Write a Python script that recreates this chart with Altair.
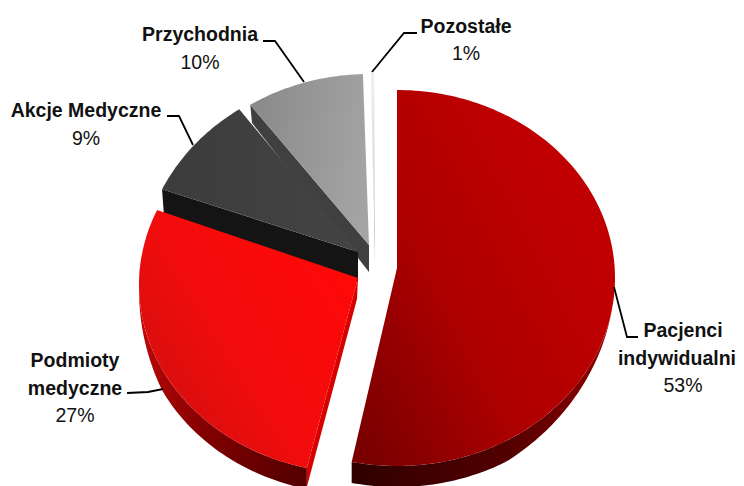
import numpy as np
import pandas as pd
import altair as alt

# ---- values
names = ["Pacjenci indywidualni", "Podmioty medyczne", "Akcje Medyczne", "Przychodnia", "Pozostałe"]
shares = [53, 27, 9, 10, 1]

# ---- label text
label_lines = [
    ("Pacjenci", 683, 337, "bold"), ("indywidualni", 677, 365, "bold"), ("53%", 683, 392, "normal"),
    ("Podmioty", 75, 367, "bold"), ("medyczne", 75, 395, "bold"), ("27%", 75, 422, "normal"),
    ("Akcje Medyczne", 86, 117, "bold"), ("9%", 86, 145, "normal"),
    ("Przychodnia", 200, 41, "bold"), ("10%", 200, 69, "normal"),
    ("Pozostałe", 466, 33, "bold"), ("1%", 466, 60, "normal"),
]
leaders = [
    [(614, 287), (627, 337), (638, 337)],
    [(127, 393), (148, 392), (163, 389)],
    [(167, 116), (179, 116), (193, 145)],
    [(263, 41), (275, 41), (304, 82)],
    [(417, 33), (404, 33), (372, 72)],
]

# ---- drawing geometry of the tilted, exploded pie (picture coordinates)
cum = np.concatenate([[0], np.cumsum(shares)]) * 3.6
tilt_shift = [(0, 1.2), (2.5, 5.5), (8, 6.6), (6.6, 2), (2.5, -0.2)]
apex = [(397, 268), (358, 278), (358, 252), (369, 245), (375, 260)]
centre = [(397, 278), (357, 285), (358, 277), (369, 265), (375, 265)]
rx, ry = 218, [188, 188, 200, 191, 192]
a = [(cum[i] + tilt_shift[i][0], cum[i + 1] + tilt_shift[i][1]) for i in range(5)]


def arc(i, a0=None, a1=None, dy=0):
    a0 = a[i][0] if a0 is None else a0
    a1 = a[i][1] if a1 is None else a1
    t = np.radians(np.linspace(a0, a1, max(2, int(abs(a1 - a0) / 1.2) + 2)))
    return [(centre[i][0] + rx * np.sin(v), centre[i][1] - ry[i] * np.cos(v) + dy) for v in t]


def wedge(i, dy=0):
    return [(apex[i][0], apex[i][1] + dy)] + arc(i, dy=dy)


def band(i, a_thin, a_full, a_end, dy):
    """Rim of the slice: zero deep at a_thin, full depth from a_full to a_end."""
    upper = arc(i, a_thin, a_end)
    angles = np.linspace(a_thin, a_end, len(upper))
    depth = dy * np.clip((angles - a_thin) / (a_full - a_thin), 0, 1)
    lower = [(p[0], p[1] + d) for p, d in zip(upper, depth)]
    return upper + lower[::-1]


def grad(stops, x1=0.0, y1=0.0, x2=1.0, y2=0.0):
    return alt.Gradient(
        gradient="linear", x1=x1, y1=y1, x2=x2, y2=y2,
        stops=[alt.GradientStop(offset=o, color=c) for o, c in stops],
    )


X = alt.X("x:Q", scale=alt.Scale(domain=[8, 736], nice=False, zero=False), axis=None)
Y = alt.Y("y:Q", scale=alt.Scale(domain=[486, 8], nice=False, zero=False), axis=None)


def poly(points, fill):
    df = pd.DataFrame(points, columns=["x", "y"]).assign(i=lambda d: range(len(d)))
    return alt.Chart(df).mark_line(
        fill=fill, stroke=None, strokeWidth=0, interpolate="linear-closed", clip=False
    ).encode(x=X, y=Y, order=alt.Order("i:Q"))


polys = [
    poly(wedge(4), grad([(0, "#f0f0f0"), (0.75, "#d0d0d0"), (0.95, "#777777"), (1, "#333333")], 0, 0, 0, 1)),
    poly([apex[3], (369, 272), (252, 123), arc(3)[0]], "#404040"),
    poly(wedge(3), grad([(0, "#8a8a8a"), (1, "#a4a4a4")], 0, 0.3, 1, 0.5)),
    poly([apex[2], (358, 282), (164, 216), arc(2)[0]], "#141414"),
    poly(wedge(2), grad([(0, "#3c3c3c"), (1, "#444444")])),
    poly(band(1, a[1][1] - 15, a[1][1] - 50, a[1][0], 21), grad([(0, "#500000"), (0.5, "#800000"), (1, "#c00808")], 1, 1, 0, 0.3)),
    poly([apex[1], (apex[1][0] - 1, apex[1][1] + 21), arc(1, dy=19)[0], arc(1)[0]], "#d60000"),
    poly(wedge(1), grad([(0, "#ff0808"), (0.5, "#f20c0c"), (1, "#c81010")], 1, 0.3, 0.05, 1)),
    poly(band(0, 100, 150, a[0][1], 21), grad([(0, "#2e0000"), (0.6, "#520000"), (0.95, "#8a0000"), (1, "#a00000")])),
    poly(wedge(0), grad([(0, "#c00000"), (0.5, "#ae0000"), (1, "#7a0000")], 0.85, 0.35, 0.05, 0.95)),
]

leader_df = pd.DataFrame(
    [(k, n, p[0], p[1]) for k, line in enumerate(leaders) for n, p in enumerate(line)],
    columns=["k", "i", "x", "y"],
)
leader_chart = alt.Chart(leader_df).mark_line(color="#000000", strokeWidth=1.8).encode(
    x=X, y=Y, detail="k:N", order=alt.Order("i:Q")
)

text_df = pd.DataFrame(label_lines, columns=["t", "x", "y", "w"])
texts = [
    alt.Chart(text_df[text_df.w == w]).mark_text(
        font="Liberation Sans", fontSize=19.5, fontWeight=w, color="#111111",
        align="center", baseline="alphabetic",
    ).encode(x=X, y=Y, text="t:N")
    for w in ["bold", "normal"]
]

chart = alt.layer(*polys, leader_chart, *texts).properties(
    width=728, height=478, padding=0, background="#ffffff", autosize=alt.AutoSizeParams(type="none")
).configure_view(stroke=None)

chart.save("out.html", embed_options={"renderer": "svg", "actions": False})
